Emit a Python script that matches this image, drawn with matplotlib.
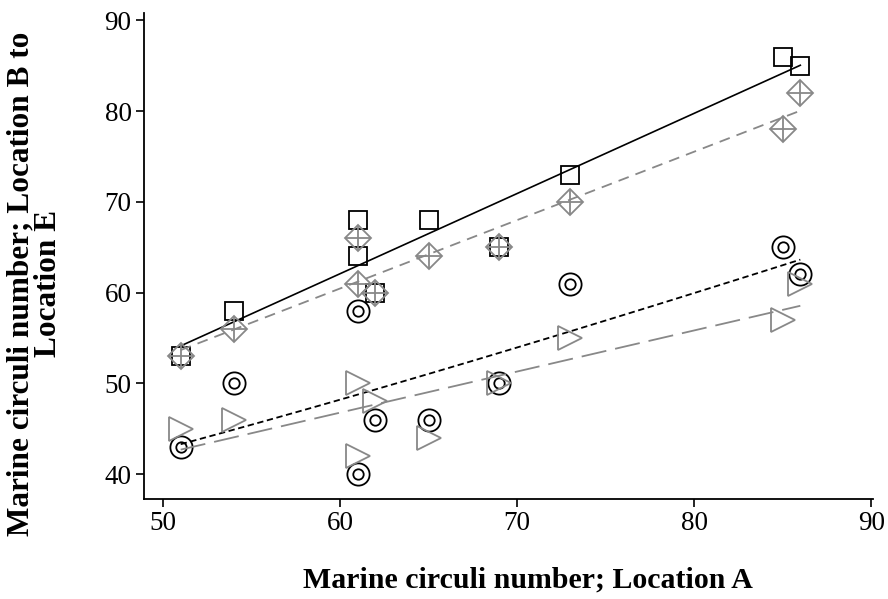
import numpy as np
import matplotlib.pyplot as plt

plt.rcParams['font.family'] = ['Liberation Serif', 'DejaVu Serif']

# data
loc_a = [51, 54, 61, 61, 62, 65, 69, 73, 85, 86]
sq_b = [53, 58, 68, 64, 60, 68, 65, 73, 86, 85]
dm_c = [53, 56, 66, 61, 60, 64, 65, 70, 78, 82]
ci_d = [43, 50, 58, 40, 46, 46, 50, 61, 65, 62]
tr_e = [45, 46, 50, 42, 48, 44, 50, 55, 57, 61]

GRAY = '#888888'

x = np.array(loc_a, dtype=float)


def linfit(x, y):
    b, a = np.polyfit(x, np.array(y, dtype=float), 1)
    xs = np.array([x.min(), x.max()])
    return xs, a + b * xs


def smooth(x, y, bw=28.0, n=120):
    # local linear smoother with a wide gaussian kernel
    y = np.array(y, dtype=float)
    grid = np.linspace(x.min(), x.max(), n)
    out = []
    for g in grid:
        w = np.exp(-0.5 * ((x - g) / bw) ** 2)
        W = np.sum(w)
        xm = np.sum(w * x) / W
        ym = np.sum(w * y) / W
        b = np.sum(w * (x - xm) * (y - ym)) / np.sum(w * (x - xm) ** 2)
        out.append(ym + b * (g - xm))
    return grid, np.array(out)


fig = plt.figure(figsize=(8.88, 5.99), dpi=100)
ax = fig.add_axes([0.1622, 0.167, 0.983 - 0.1622, 0.978 - 0.167])

# squares + solid fit
ax.plot(x, sq_b, 's', ms=12.5, mfc='none', mec='black', mew=1.3, ls='none')
xs, ys = linfit(x, sq_b)
ax.plot(xs, ys, color='black', lw=1.2)

# diamonds with cross + gray dashed fit
ax.plot(x, dm_c, 'D', ms=13, mfc='none', mec=GRAY, mew=1.3, ls='none')
ax.plot(x, dm_c, '+', ms=18, mec=GRAY, mew=1.3, ls='none')
xs, ys = linfit(x, dm_c)
ax.plot(xs, ys, color=GRAY, lw=1.3, dashes=(6, 4))

# double circles + black short-dash smooth
ax.plot(x, ci_d, 'o', ms=16, mfc='none', mec='black', mew=1.3, ls='none')
ax.plot(x, ci_d, 'o', ms=7.5, mfc='none', mec='black', mew=1.3, ls='none')
xs, ys = smooth(x, ci_d)
ax.plot(xs, ys, color='black', lw=1.3, dashes=(3.5, 2))

# triangles + gray long-dash fit
ax.plot(x, tr_e, '>', ms=17, mfc='none', mec=GRAY, mew=1.3, ls='none')
xs, ys = linfit(x, tr_e)
ax.plot(xs, ys, color=GRAY, lw=1.3, dashes=(14, 5))

ax.set_xlim(48.93, 90.1)
ax.set_ylim(37.25, 90.8)
ax.set_xticks([50, 60, 70, 80, 90])
ax.set_yticks([40, 50, 60, 70, 80, 90])
ax.spines['top'].set_visible(False)
ax.spines['right'].set_visible(False)
ax.tick_params(direction='out', length=6, width=1.2, labelsize=19.5, pad=3)
for s in ['left', 'bottom']:
    ax.spines[s].set_linewidth(1.3)

fig.text(0.594, 0.032, 'Marine circuli number; Location A', ha='center',
         va='center', fontsize=21.5, fontweight='bold')
fig.text(0.039, 0.527, 'Marine circuli number; Location B to\nLocation E',
         ha='center', va='center', rotation=90, fontsize=22.5,
         fontweight='bold', linespacing=0.95)

fig.savefig('out.png', dpi=100)
